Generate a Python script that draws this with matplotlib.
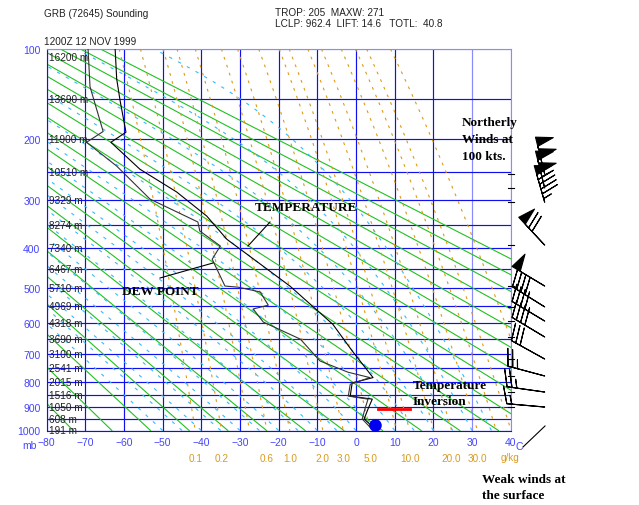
import numpy as np
import matplotlib
matplotlib.use('Agg')
import matplotlib.pyplot as plt

# ---------------- data ----------------
KAPPA = 0.286
temp_p = [100, 128, 152, 191, 205, 246, 285, 331, 380, 400, 494, 604, 690, 785, 805, 856, 868, 908, 950, 985]
temp_t = [-62.3, -61.9, -61.0, -59.5, -63.4, -55.9, -46.4, -38.6, -33.4, -30.3, -17.1, -6.0, -1.0, 4.4, -1.0, -1.5, 4.2, 3.1, 2.1, 4.4]
dewp_p = [100, 136, 190, 205, 241, 298, 343, 362, 395, 426, 494, 497, 510, 547, 558, 597, 651, 725, 765, 785, 810, 856, 868, 908, 950, 985]
dewp_t = [-69.3, -68.8, -65.4, -69.7, -61.9, -53.3, -40.9, -40.4, -35.1, -37.2, -33.9, -30.5, -24.8, -22.7, -26.6, -24.0, -14.4, -9.3, -2.1, 3.6, -1.5, -2.0, 3.1, 2.3, 1.6, 3.6]
sfc_p, sfc_t = 975, 5.0

press_levels = [100, 200, 300, 400, 500, 600, 700, 800, 900, 1000]
height_p = [100, 150, 200, 250, 300, 350, 400, 450, 500, 550, 600, 650, 700, 750, 800, 850, 900, 950, 1000]
height_lbl = ["16200 m", "13690 m", "11900 m", "10510 m", "9329 m", "8274 m", "7340 m", "6467 m",
              "5710 m", "4969 m", "4318 m", "3690 m", "3100 m", "2541 m", "2015 m", "1516 m",
              "1050 m", "608 m", "191 m"]
temp_ticks = list(range(-80, 41, 10))
theta_lines = list(range(190, 401, 10))
moist_t0 = list(range(-50, 36, 5))
mix_w = [0.1, 0.2, 0.4, 0.6, 1.0, 2.0, 3.0, 5.0, 8.0, 10.0, 15.0, 20.0, 30.0, 40.0, 50.0, 80.0]
mix_lbl = [0.1, 0.2, 0.6, 1.0, 2.0, 3.0, 5.0, 10.0, 20.0, 30.0]

wind_p = [254, 278, 304, 393, 494, 552, 594, 644, 718, 779, 840, 900]
wind_dir = [346, 346, 344, 317, 301, 302, 301, 301, 299, 285, 278, 275]
wind_spd = [100, 105, 95, 70, 50, 40, 40, 40, 30, 25, 25, 15]

# ---------------- helpers ----------------
def es(T):
    return 6.112 * np.exp(17.67 * T / (T + 243.5))

def rs(T, p):
    e = es(T)
    return 0.622 * e / (p - e)

def t_from_w(w, p):
    e = (w / 1000.) * p / (0.622 + w / 1000.)
    a = np.log(e / 6.112)
    return 243.5 * a / (17.67 - a)

def moist_adiabat(T0, ps):
    Rd, cp, Lv, eps = 287.04, 1005.7, 2.501e6, 0.622
    def f(T, p):
        r = rs(T - 273.15, p)
        return (Rd * T + Lv * r) / (p * (cp + Lv * Lv * r * eps / (Rd * T * T)))
    T = T0 + 273.15
    out = [T0]
    for i in range(1, len(ps)):
        p0, p1 = ps[i - 1], ps[i]
        dp = p1 - p0
        k1 = f(T, p0)
        k2 = f(T + k1 * dp / 2, p0 + dp / 2)
        T = T + k2 * dp
        out.append(T - 273.15)
    return np.array(out)

W, H = 639, 506
fig = plt.figure(figsize=(W / 100, H / 100), dpi=100)
L, R, TOP, BOT = 46.7, 510.7, 50, 431.5
ax = fig.add_axes([L / W, 1 - BOT / H, (R - L) / W, (BOT - TOP) / H])
fwd = lambda p: (np.asarray(p, dtype=float) / 1000.) ** KAPPA
inv = lambda f: 1000. * np.asarray(f, dtype=float) ** (1 / KAPPA)
ax.set_yscale('function', functions=(fwd, inv))
ax.set_ylim(1000, 100)
ax.set_xlim(-80, 40)

BLUE = '#1010ee'
LBLUE = '#8a8aff'
GREEN = '#22c022'
CYAN = '#33bbff'
ORANGE = '#e09a10'

# grid
for t in temp_ticks:
    c = LBLUE if t >= 30 else BLUE
    ax.axvline(t, color=c, lw=0.85, zorder=1)
for p in height_p:
    c = LBLUE if p == 100 else BLUE
    ax.axhline(p, color=c, lw=0.85, zorder=1)

pp = np.linspace(100, 1000, 300)
for th in theta_lines:
    ax.plot(th * (pp / 1000.) ** KAPPA - 273.15, pp, color=GREEN, lw=0.8, zorder=2)

ps = np.arange(1000, 99, -5.0)
for t0 in moist_t0:
    ax.plot(moist_adiabat(t0, ps), ps, color=CYAN, lw=0.8, dashes=(3, 6), zorder=2)

for w in mix_w:
    ax.plot(t_from_w(w, pp), pp, color=ORANGE, lw=0.8, dashes=(2.5, 5), zorder=2)

ax.plot(temp_t, temp_p, color='black', lw=0.8, zorder=4)
ax.plot(dewp_t, dewp_p, color='#333333', lw=0.8, zorder=4)
ax.plot([sfc_t], [sfc_p], 'o', color='#0000ee', ms=8, zorder=5)

for s in ax.spines.values():
    s.set_color(BLUE)
ax.spines['top'].set_color(LBLUE)
ax.spines['right'].set_color(LBLUE)

ax.set_yticks(press_levels)
ax.set_yticklabels([str(p) for p in press_levels])
ax.yaxis.set_minor_locator(matplotlib.ticker.NullLocator())
ax.set_xticks(temp_ticks)
ax.set_xticklabels([('\u2212%d' % -t) if t < 0 else str(t) for t in temp_ticks])
ax.tick_params(length=0, colors='#4444ff', labelsize=7.5, pad=4.5)
for lab in ax.get_xticklabels() + ax.get_yticklabels():
    lab.set_family('Liberation Sans')

for p, s in zip(height_p, height_lbl):
    ax.text(-79.4, 103 if p == 100 else p, s, fontsize=7.2, family='Liberation Sans', color='#222222',
            ha='left', va='top' if p == 100 else 'center', zorder=6)

# overlay in pixel coordinates
ov = fig.add_axes([0, 0, 1, 1], facecolor='none')
ov.set_xlim(0, W)
ov.set_ylim(H, 0)
ov.axis('off')

def ft(x, y, s, **kw):
    kw.setdefault('fontsize', 7.2)
    kw.setdefault('family', 'Liberation Sans')
    kw.setdefault('color', '#222222')
    kw.setdefault('va', 'center')
    ov.text(x, y, s, **kw)

for w in mix_lbl:
    ax.annotate('%.1f' % w, xy=(t_from_w(w, 1000.), 1000), xycoords='data',
                xytext=(0, -19.5), textcoords='offset points', ha='center', va='center',
                fontsize=7.2, family='Liberation Sans', color='#d99a20', annotation_clip=False)
ft(510, 458, 'g/kg', color='#d99a20', ha='center')
ft(516, 447, 'C', color='#4444ff', fontsize=7.5)
ft(29, 446, 'mb', color='#4444ff', fontsize=7.5, ha='center')

ft(44, 14, 'GRB (72645) Sounding')
ft(275, 13, 'TROP: 205  MAXW: 271')
ft(275, 24, 'LCLP: 962.4  LIFT: 14.6   TOTL:  40.8')
ft(44, 42, '1200Z 12 NOV 1999')

bold = dict(family='Liberation Serif', fontweight='bold', fontsize=9.5, color='black')
ft(255, 208, 'TEMPERATURE', **bold)
ft(122, 292, 'DEW POINT', **bold)
ft(413, 386, 'Temperature', **bold)
ft(413, 402, 'Inversion', **bold)
ft(462, 123, 'Northerly', **bold)
ft(462, 140, 'Winds at', **bold)
ft(462, 157, '100 kts.', **bold)
ft(482, 480, 'Weak winds at', **bold)
ft(482, 496, 'the surface', **bold)

ov.plot([270, 248], [223, 247], color='black', lw=0.8)
ov.plot([160, 213], [279, 264], color='black', lw=0.8)
ov.plot([378, 410], [410, 410], color='red', lw=2)
ov.plot([523, 545], [448, 427], color='black', lw=0.8)

# wind barbs axes
ax2 = fig.add_axes([R / W, 1 - BOT / H, 90 / W, (BOT - TOP) / H], facecolor='none')
ax2.set_yscale('function', functions=(fwd, inv))
ax2.set_ylim(1000, 100)
ax2.set_xlim(0, 90)
ax2.axis('off')
wd = np.radians(np.array(wind_dir, dtype=float))
ws = np.array(wind_spd, dtype=float)
u = -ws * np.sin(wd)
v = -ws * np.cos(wd)
ax2.barbs(np.full(len(wind_p), 34.0), wind_p, u, v, length=7.4, lw=0.8, color='black',
          sizes=dict(height=0.45, spacing=0.13, width=0.25), clip_on=False)
for p in wind_p:
    ax2.plot([-3, 3], [p, p], color='black', lw=0.8, clip_on=False)

fig.savefig('out.png', dpi=100)
